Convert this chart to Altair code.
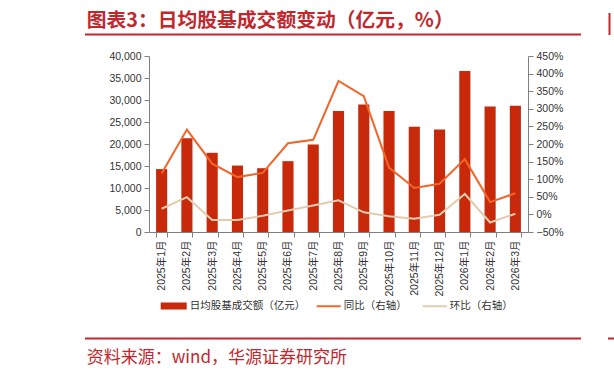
import altair as alt
import pandas as pd

months = ["2025年1月", "2025年2月", "2025年3月", "2025年4月", "2025年5月", "2025年6月",
          "2025年7月", "2025年8月", "2025年9月", "2025年10月", "2025年11月", "2025年12月",
          "2026年1月", "2026年2月", "2026年3月"]
turnover = [14300, 21300, 18000, 15100, 14500, 16100, 19900, 27500, 29000, 27500,
            23900, 23300, 36600, 28500, 28700]
yoy = [116, 241, 144, 106, 118, 202, 212, 379, 336, 133, 75, 87, 157, 35, 60]
mom = [16, 49, -16, -16, -4, 11, 25, 40, 6, -5, -12, -1, 58, -23, 2]

bar_name = "日均股基成交额（亿元）"
yoy_name = "同比（右轴）"
mom_name = "环比（右轴）"
title_text = "图表3：日均股基成交额变动（亿元，%）"
source_text = "资料来源：wind，华源证券研究所"

RED = "#C0282D"
BAR = "#C8290B"
ORANGE = "#F2652A"
BEIGE = "#E2CCAE"
FONT = "Liberation Sans, Noto Sans CJK SC"
CJK = "Noto Sans CJK SC"

bars_df = pd.DataFrame({"month": months, "value": turnover, "name": bar_name})
lines_df = pd.DataFrame({
    "month": months * 2,
    "pct": [v / 100 for v in yoy] + [v / 100 for v in mom],
    "name": [yoy_name] * len(months) + [mom_name] * len(months),
})

x_axis = alt.Axis(title=None, labelAngle=-90, labelFont=FONT, labelFontSize=10.5,
                  labelColor="#333333", domainColor="#808080", tickColor="#808080",
                  tickBand="extent", tickSize=5, labelPadding=3, labelBaseline="middle",
                  labelAlign="right")
x_scale = alt.Scale(paddingInner=0.56, paddingOuter=0.28)

bars = alt.Chart(bars_df).mark_bar(color=BAR).encode(
    x=alt.X("month:N", sort=months, scale=x_scale, axis=x_axis),
    y=alt.Y("value:Q", scale=alt.Scale(domain=[0, 40000], nice=False),
            axis=alt.Axis(title=None, values=list(range(0, 40001, 5000)), format=",d",
                          labelFont=FONT, labelFontSize=10.5, labelColor="#333333",
                          domainColor="#808080", tickColor="#808080", tickSize=5,
                          labelPadding=3, grid=False)),
    color=alt.Color("name:N", scale=alt.Scale(domain=[bar_name], range=[BAR]),
                    legend=alt.Legend(title=None, orient="none", legendX=11.7, legendY=237,
                                      symbolType="M-1,-0.27L1,-0.27L1,0.27L-1,0.27Z",
                                      symbolSize=676, symbolStrokeWidth=0,
                                      labelFont=CJK, labelFontSize=10.5, labelColor="#333333",
                                      labelOffset=3, padding=0)),
)

lines = alt.Chart(lines_df).mark_line(strokeWidth=2).encode(
    x=alt.X("month:N", sort=months, scale=x_scale, axis=x_axis),
    y=alt.Y("pct:Q", scale=alt.Scale(domain=[-0.5, 4.5], nice=False),
            axis=alt.Axis(title=None, orient="right", format=".0%",
                          values=[-0.5, 0, 0.5, 1, 1.5, 2, 2.5, 3, 3.5, 4, 4.5],
                          labelFont=FONT, labelFontSize=10.5, labelColor="#333333",
                          domainColor="#808080", tickColor="#808080", tickSize=5,
                          labelPadding=3, grid=False)),
    color=alt.Color("name:N", scale=alt.Scale(domain=[yoy_name, mom_name], range=[ORANGE, BEIGE]),
                    sort=[yoy_name, mom_name],
                    legend=alt.Legend(title=None, orient="none", legendX=166.7, legendY=237,
                                      direction="horizontal", columns=2, columnPadding=12,
                                      symbolType="stroke", symbolSize=576, symbolStrokeWidth=2,
                                      labelFont=CJK, labelFontSize=10.5, labelColor="#333333",
                                      labelOffset=2, padding=0)),
    order=alt.Order("name:N", sort="descending"),
)

one = alt.Data(values=[{}])

title = alt.Chart(one).mark_text(
    text=title_text, font=CJK, fontSize=19.8, fontWeight="bold", color=RED,
    align="left", baseline="middle"
).encode(x=alt.value(-62.3), y=alt.value(-35.5))

top_rule = alt.Chart(one).mark_rule(color=RED, strokeWidth=2).encode(
    x=alt.value(-64), x2=alt.value(432), y=alt.value(-21.5))

bottom_rule = alt.Chart(one).mark_rule(color=RED, strokeWidth=2).encode(
    x=alt.value(-64), x2=alt.value(432), y=alt.value(282.5))

source = alt.Chart(one).mark_text(
    text=source_text, font=CJK, fontSize=17, color=RED,
    align="left", baseline="middle"
).encode(x=alt.value(-62.3), y=alt.value(302))

edge_top = alt.Chart(one).mark_rule(color=RED, strokeWidth=2).encode(
    x=alt.value(460.5), y=alt.value(-43), y2=alt.value(-21))
edge_bottom = alt.Chart(one).mark_rule(color=RED, strokeWidth=2).encode(
    x=alt.value(459), x2=alt.value(465), y=alt.value(282.5))

chart = alt.layer(bars, lines, title, top_rule, bottom_rule, source, edge_top, edge_bottom).resolve_scale(
    y="independent", color="independent"
).properties(
    width=379, height=176,
    autosize=alt.AutoSizeParams(type="none"),
    padding={"left": 149, "top": 56, "right": 86, "bottom": 145},
    background="white",
).configure_view(stroke=None)

chart.save("out.html", embed_options={"renderer": "svg", "actions": False})
